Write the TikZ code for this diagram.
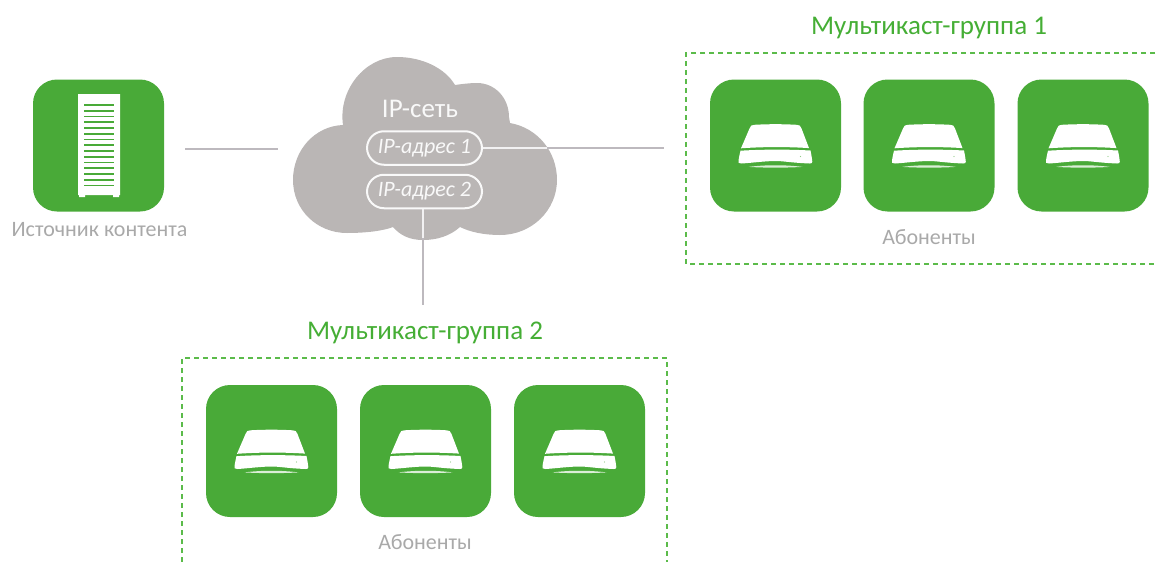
\documentclass[tikz,border=0pt]{standalone}
\usepackage{fontspec}
\setmainfont{Carlito}
\definecolor{grn}{HTML}{49AA38}
\definecolor{dash}{HTML}{5BBB4A}
\definecolor{cloudc}{HTML}{BAB6B5}
\definecolor{linec}{HTML}{BDB9BE}
\definecolor{labelc}{HTML}{A9A9A9}
\definecolor{titlec}{HTML}{45AE35}
\tikzset{
  x=1pt,y=-1pt,
  tile/.style={fill=grn,draw=none,rounded corners=24pt,minimum width=131pt,minimum height=132pt,inner sep=0pt},
  conn/.style={draw=linec,line width=2.4pt},
  connin/.style={draw=white!80!linec,line width=2.2pt},
  groupbox/.style={draw=dash,line width=2.4pt,dash pattern=on 5pt off 4pt},
  pill/.style={draw=white!92!cloudc,line width=2pt,rounded corners=17pt,minimum width=115pt,minimum height=33.5pt,inner sep=0pt,text=white!92!cloudc,font=\itshape\fontsize{22}{24}\selectfont},
  graytext/.style={text=labelc,font=\fontsize{22}{24}\selectfont,inner sep=0pt},
  titletext/.style={text=titlec,font=\fontsize{27}{28}\selectfont,inner sep=0pt},
  device/.pic={
    \fill[white] (-26,-17) .. controls (-25,-20) and (-24,-20.5) .. (-21,-20.7)
      .. controls (-8,-21.5) and (8,-21.5) .. (21,-20.7)
      .. controls (24,-20.5) and (25,-20) .. (26,-17)
      -- (33.5,2.6) .. controls (12,1.2) and (-12,1.2) .. (-34.5,2.8) -- cycle;
    \fill[white] (-35,5.2) .. controls (-12,3.8) and (12,3.8) .. (35,5)
      .. controls (36,10) and (36.5,13) .. (36.8,16)
      .. controls (37,17.5) and (36,18) .. (34,18)
      .. controls (15,17.2) and (8,15.5) .. (0,15.5)
      .. controls (-10,15.5) and (-25,17.5) .. (-34,18)
      .. controls (-37,18.2) and (-37.5,17) .. (-37,15)
      .. controls (-36.5,12) and (-36,9) .. (-35,5.2) -- cycle;
    \fill[white!80!grn] (-27,21.4) .. controls (-10,19.2) and (10,19.2) .. (27,21.4) .. controls (10,22.4) and (-10,22.4) .. (-27,21.4) -- cycle;
    \fill[grn!60!white] (25,11) circle (0.6);
  }
}
\begin{document}
\begin{tikzpicture}
\useasboundingbox (0,0) rectangle (1159,562);
% cloud
\fill[cloudc] (343,125) .. controls (338,90) and (365,57) .. (397,57)
  .. controls (422,57) and (445,68) .. (455,85)
  .. controls (462,84) and (470,83) .. (477,83)
  .. controls (495,83) and (509,98) .. (509,117) -- (510,123)
  .. controls (538,128) and (557,152) .. (557,180)
  .. controls (557,210) and (532,235) .. (500,235)
  .. controls (484,235) and (470,232) .. (460,227)
  .. controls (450,236) and (437,240) .. (423,240)
  .. controls (409,240) and (400,235) .. (393,227)
  .. controls (383,231) and (365,233) .. (347,233)
  .. controls (317,233) and (293,210) .. (293,180)
  .. controls (293,150) and (315,126) .. (343,125) -- cycle;
\node[pill] (addr1) at (424.5,148) {IP-адрес 1};
\node[pill] (addr2) at (424.5,191.5) {IP-адрес 2};
\node[inner sep=0pt,text=white!92!cloudc,font=\fontsize{27}{28}\selectfont] (net) at (420,109) {IP-сеть};
% source
\node[tile] (src) at (98.5,145.5) {};
\fill[white] (78,94) rectangle (120,195) (79,195) rectangle (85,197) (113,195) rectangle (119,197);
\foreach \i in {0,...,14} \draw[grn,line width=1.6pt] (84,{105+\i*5.75}) -- (114,{105+\i*5.75});
\node[graytext] (srclabel) at (99.5,230) {Источник контента};
% coordinates for connectors
\coordinate (srcEnd) at (185,149);
\coordinate (netIn) at (278,149);
\coordinate (cloudR) at (547,148);
\coordinate (g1in) at (664,148);
\coordinate (cloudB) at (423,238);
\coordinate (g2in) at (423,305);
\draw[conn] (srcEnd) -- (netIn);
\draw[connin] (addr1.east) -- (cloudR);
\draw[conn] (cloudR) -- (g1in);
\draw[connin] (addr2.south -| cloudB) -- (cloudB);
\draw[conn] (cloudB) -- (g2in);
% group 1
\node[titletext] (t1) at (929,28) {Мультикаст-группа 1};
\draw[groupbox] (1155,53) -- (686,53) -- (686,264) -- (1155,264);
\foreach \n/\x in {a/775.5,b/929,c/1083}{
  \node[tile] (g1\n) at (\x,145.5) {};
  \pic at (\x,145.5) {device};
}
\node[graytext] (l1) at (929,237) {Абоненты};
% group 2
\node[titletext] (t2) at (425,332.5) {Мультикаст-группа 2};
\draw[groupbox] (182,562) -- (182,358) -- (667,358) -- (667,562);
\foreach \n/\x in {a/271.5,b/425.5,c/579.5}{
  \node[tile] (g2\n) at (\x,451) {};
  \pic at (\x,451) {device};
}
\node[graytext] (l2) at (425,542) {Абоненты};
\end{tikzpicture}
\end{document}
